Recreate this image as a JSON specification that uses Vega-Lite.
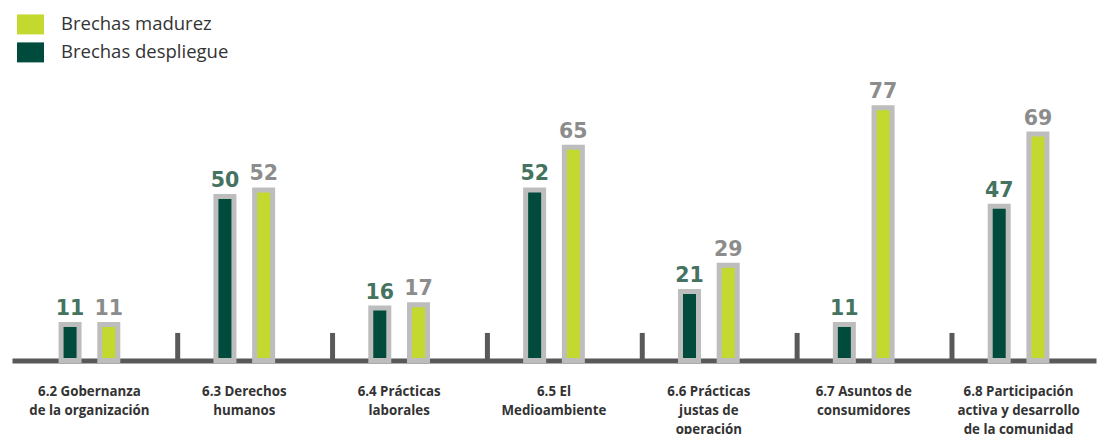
{
  "$schema": "https://vega.github.io/schema/vega-lite/v6.json",
  "autosize": {"type": "none"},
  "width": 1084,
  "height": 262.5,
  "padding": {"left": 12, "top": 98, "right": 3, "bottom": 73.5},
  "background": "white",
  "config": {
    "view": {"stroke": null},
    "axisY": {"disable": true},
    "axisX": {
      "labelExpr": "split(datum.label, '|')",
      "domain": true,
      "domainColor": "#58595b",
      "domainWidth": 5,
      "ticks": false,
      "grid": false,
      "labelAngle": 0,
      "labelFont": "Open Sans",
      "labelFontWeight": "bold",
      "labelFontSize": 13.3,
      "labelColor": "#333333",
      "labelLineHeight": 19,
      "labelPadding": 34.5,
      "labelBaseline": "alphabetic",
      "zindex": 1
    }
  },
  "datasets": {
    "bars": [
      {"cat": "6.2 Gobernanza|de la organización", "serie": "Brechas despliegue", "valor": 11},
      {"cat": "6.2 Gobernanza|de la organización", "serie": "Brechas madurez", "valor": 11},
      {"cat": "6.3 Derechos|humanos", "serie": "Brechas despliegue", "valor": 50},
      {"cat": "6.3 Derechos|humanos", "serie": "Brechas madurez", "valor": 52},
      {"cat": "6.4 Prácticas|laborales", "serie": "Brechas despliegue", "valor": 16},
      {"cat": "6.4 Prácticas|laborales", "serie": "Brechas madurez", "valor": 17},
      {"cat": "6.5 El|Medioambiente", "serie": "Brechas despliegue", "valor": 52},
      {"cat": "6.5 El|Medioambiente", "serie": "Brechas madurez", "valor": 65},
      {"cat": "6.6 Prácticas|justas de|operación", "serie": "Brechas despliegue", "valor": 21},
      {"cat": "6.6 Prácticas|justas de|operación", "serie": "Brechas madurez", "valor": 29},
      {"cat": "6.7 Asuntos de|consumidores", "serie": "Brechas despliegue", "valor": 11},
      {"cat": "6.7 Asuntos de|consumidores", "serie": "Brechas madurez", "valor": 77},
      {"cat": "6.8 Participación|activa y desarrollo|de la comunidad", "serie": "Brechas despliegue", "valor": 47},
      {"cat": "6.8 Participación|activa y desarrollo|de la comunidad", "serie": "Brechas madurez", "valor": 69}
    ],
    "sep": [
      {"cat": "6.2 Gobernanza|de la organización"},
      {"cat": "6.3 Derechos|humanos"},
      {"cat": "6.4 Prácticas|laborales"},
      {"cat": "6.5 El|Medioambiente"},
      {"cat": "6.6 Prácticas|justas de|operación"},
      {"cat": "6.7 Asuntos de|consumidores"}
    ]
  },
  "layer": [
    {
      "data": {"name": "bars"},
      "mark": {"type": "bar", "width": 18, "stroke": "#bdbdbd", "strokeWidth": 5, "strokeJoin": "miter"},
      "encoding": {
        "x": {
          "field": "cat", "type": "nominal", "title": null,
          "scale": {
            "domain": ["6.2 Gobernanza|de la organización", "6.3 Derechos|humanos", "6.4 Prácticas|laborales", "6.5 El|Medioambiente", "6.6 Prácticas|justas de|operación", "6.7 Asuntos de|consumidores", "6.8 Participación|activa y desarrollo|de la comunidad"],
            "paddingInner": 0, "paddingOuter": 0
          }
        },
        "xOffset": {
          "field": "serie", "type": "nominal",
          "scale": {"domain": ["Brechas despliegue", "Brechas madurez"], "paddingInner": 0, "paddingOuter": 1.213}
        },
        "y": {"field": "valor", "type": "quantitative", "title": null, "scale": {"domain": [0, 80], "nice": false, "zero": true}},
        "color": {
          "field": "serie", "type": "nominal",
          "scale": {"domain": ["Brechas madurez", "Brechas despliegue"], "range": ["#c3d92f", "#004b3b"]},
          "legend": {
            "title": null,
            "orient": "none",
            "legendX": 8.5,
            "legendY": -83.6,
            "padding": 0,
            "symbolType": "M-1.35,-1H1.35V1H-1.35Z",
            "symbolSize": 400,
            "symbolStrokeWidth": 0,
            "symbolOpacity": 1,
            "labelFont": "Open Sans",
            "labelFontSize": 18.5,
            "labelColor": "#333333",
            "labelOffset": 20.5,
            "labelLimit": 400,
            "rowPadding": 8
          }
        }
      }
    },
    {
      "data": {"name": "sep"},
      "mark": {"type": "rule", "color": "#58595b", "strokeWidth": 5},
      "encoding": {
        "x": {"field": "cat", "type": "nominal", "bandPosition": 1.07, "title": null},
        "y": {"datum": 0, "type": "quantitative"},
        "y2": {"datum": 8.4}
      }
    },
    {
      "data": {"name": "bars"},
      "mark": {"type": "text", "dy": -9.5, "baseline": "alphabetic", "align": "center", "font": "DejaVu Sans", "fontWeight": "bold", "fontSize": 20.5},
      "encoding": {
        "x": {"field": "cat", "type": "nominal", "title": null},
        "xOffset": {"field": "serie", "type": "nominal"},
        "y": {"field": "valor", "type": "quantitative"},
        "text": {"field": "valor", "type": "quantitative"},
        "color": {
          "condition": {"test": "datum.serie === 'Brechas despliegue'", "value": "#45735f"},
          "value": "#8c8c8c"
        }
      }
    }
  ]
}
